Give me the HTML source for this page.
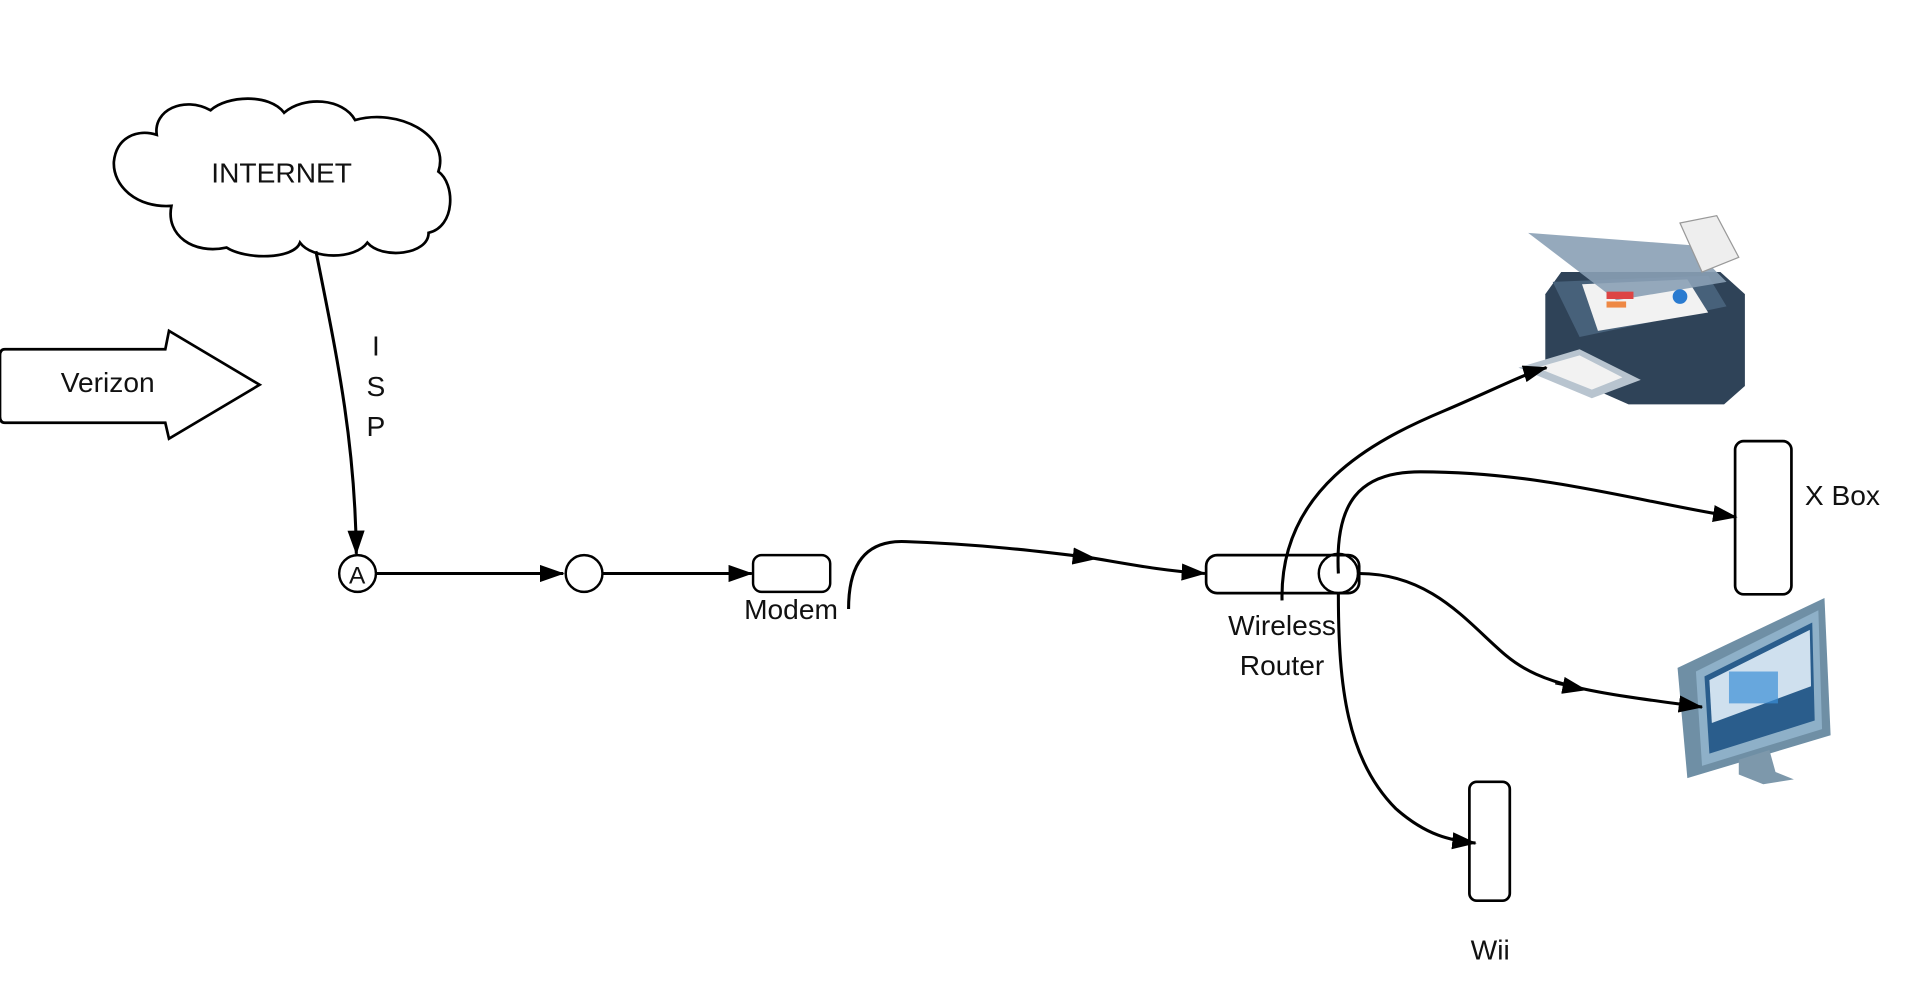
<!DOCTYPE html>
<html><head><meta charset="utf-8"><style>
html,body{margin:0;padding:0;background:#fff;width:1920px;height:984px;overflow:hidden}
svg{display:block}
text{font-family:"Liberation Sans",sans-serif;fill:#111}
</style></head><body>
<svg width="1920" height="984" viewBox="0 0 1568 803" preserveAspectRatio="none">
<defs>
<marker id="ah" viewBox="0 0 20 14" refX="19" refY="7" markerWidth="20" markerHeight="14" orient="auto" markerUnits="userSpaceOnUse"><path d="M0,0 L20,7 L0,14 z" fill="#000"/></marker>
</defs>
<!-- printer -->
<g>
<path d="M1262,240 L1275,222 L1405,222 L1425,240 L1425,315 L1408,330 L1330,330 L1262,300 Z" fill="#2f4358"/>
<path d="M1268,230 L1395,225 L1410,250 L1290,275 Z" fill="#47617a"/>
<path d="M1292,232 L1378,228 L1395,255 L1305,270 Z" fill="#f2f2f2"/>
<path d="M1248,190 L1380,200 L1410,230 L1320,245 Z" fill="#8aa0b5" opacity="0.9"/>
<path d="M1372,182 L1402,176 L1420,210 L1390,222 Z" fill="#eee" stroke="#999"/>
<path d="M1240,300 L1290,285 L1340,310 L1300,325 Z" fill="#b8c4cf"/>
<path d="M1255,300 L1290,290 L1325,308 L1300,318 Z" fill="#f2f2f2"/>
<rect x="1312" y="238" width="22" height="6" fill="#d44"/><rect x="1312" y="246" width="16" height="5" fill="#e84"/>
<circle cx="1372" cy="242" r="6" fill="#2a7bd0"/>
</g>
<!-- monitor -->
<g>
<path d="M1370,545 L1490,488 L1495,600 L1378,635 Z" fill="#6f8fa5"/>
<path d="M1385,548 L1485,498 L1488,595 L1390,625 Z" fill="#8eb0c8"/>
<path d="M1392,552 L1480,508 L1482,588 L1396,615 Z" fill="#2a5d8c"/>
<path d="M1396,555 L1478,514 L1479,560 L1398,590 Z" fill="#cfe0ee"/>
<path d="M1420,620 L1445,612 L1450,630 L1465,636 L1440,640 L1420,632 Z" fill="#7d98ab"/>
<rect x="1412" y="548" width="40" height="26" fill="#3a8fd6" opacity="0.7"/>
</g>
<g fill="none" stroke="#000" stroke-width="2.5">
<path d="M140,168 C112,170 92,152 93,132 C95,112 112,105 128,110 C125,90 150,78 172,90 C185,78 220,76 232,92 C248,78 280,80 290,98 C325,88 368,110 358,140 C372,150 372,185 350,190 C350,208 312,212 300,198 C290,212 255,212 245,198 C240,212 200,212 185,202 C158,208 135,192 140,168 Z" stroke-width="2.2"/>
<path d="M4,285 L135,285 L138,270 L212,314 L138,358 L135,345 L4,345 Q0,345 0,340 L0,290 Q0,285 4,285 Z" stroke-width="2.2"/>
<path d="M258,205 C275,290 290,360 291,452" marker-end="url(#ah)"/>
<circle cx="292" cy="468" r="15" stroke-width="2"/>
<line x1="307" y1="468" x2="460" y2="468" marker-end="url(#ah)"/>
<circle cx="477" cy="468" r="15" stroke-width="2"/>
<line x1="492" y1="468" x2="614" y2="468" marker-end="url(#ah)"/>
<rect x="615" y="453" width="63" height="30" rx="7" stroke-width="2"/>
<path d="M693,497 C693,470 700,440 740,442 C800,444 850,450 890,455 C920,460 950,466 984,468" marker-end="url(#ah)"/>
<path d="M870,453 L895,456" marker-end="url(#ah)" stroke-width="1"/>
<rect x="985" y="453" width="125" height="31" rx="9" stroke-width="2.2"/>
<circle cx="1093" cy="468" r="16" stroke-width="2"/>
<path d="M1047,490 C1045,400 1120,360 1180,335 C1220,318 1245,305 1263,300" marker-end="url(#ah)"/>
<path d="M1093,468 C1090,410 1110,385 1160,385 C1260,385 1340,410 1418,422" marker-end="url(#ah)"/>
<path d="M1110,468 C1170,468 1200,510 1230,535 C1260,560 1300,565 1390,577" marker-end="url(#ah)"/>
<path d="M1270,558 L1295,563" marker-end="url(#ah)" stroke-width="1"/>
<path d="M1093,485 C1093,560 1100,620 1140,660 C1165,682 1185,686 1205,688" marker-end="url(#ah)"/>
<rect x="1417" y="360" width="46" height="125" rx="7" stroke-width="2.2"/>
<rect x="1200" y="638" width="33" height="97" rx="6" stroke-width="2.2"/>
</g>
<text x="230" y="149" font-size="23" text-anchor="middle">INTERNET</text>
<text x="88" y="320" font-size="23" text-anchor="middle">Verizon</text>
<text x="307" y="290" font-size="23" text-anchor="middle">I</text>
<text x="307" y="323" font-size="23" text-anchor="middle">S</text>
<text x="307" y="356" font-size="23" text-anchor="middle">P</text>
<text x="285" y="476" font-size="20">A</text>
<text x="646" y="505" font-size="23" text-anchor="middle">Modem</text>
<text x="1047" y="518" font-size="23" text-anchor="middle">Wireless</text>
<text x="1047" y="551" font-size="23" text-anchor="middle">Router</text>
<text x="1474" y="412" font-size="23">X Box</text>
<text x="1217" y="783" font-size="23" text-anchor="middle">Wii</text>
</svg>
</body></html>
